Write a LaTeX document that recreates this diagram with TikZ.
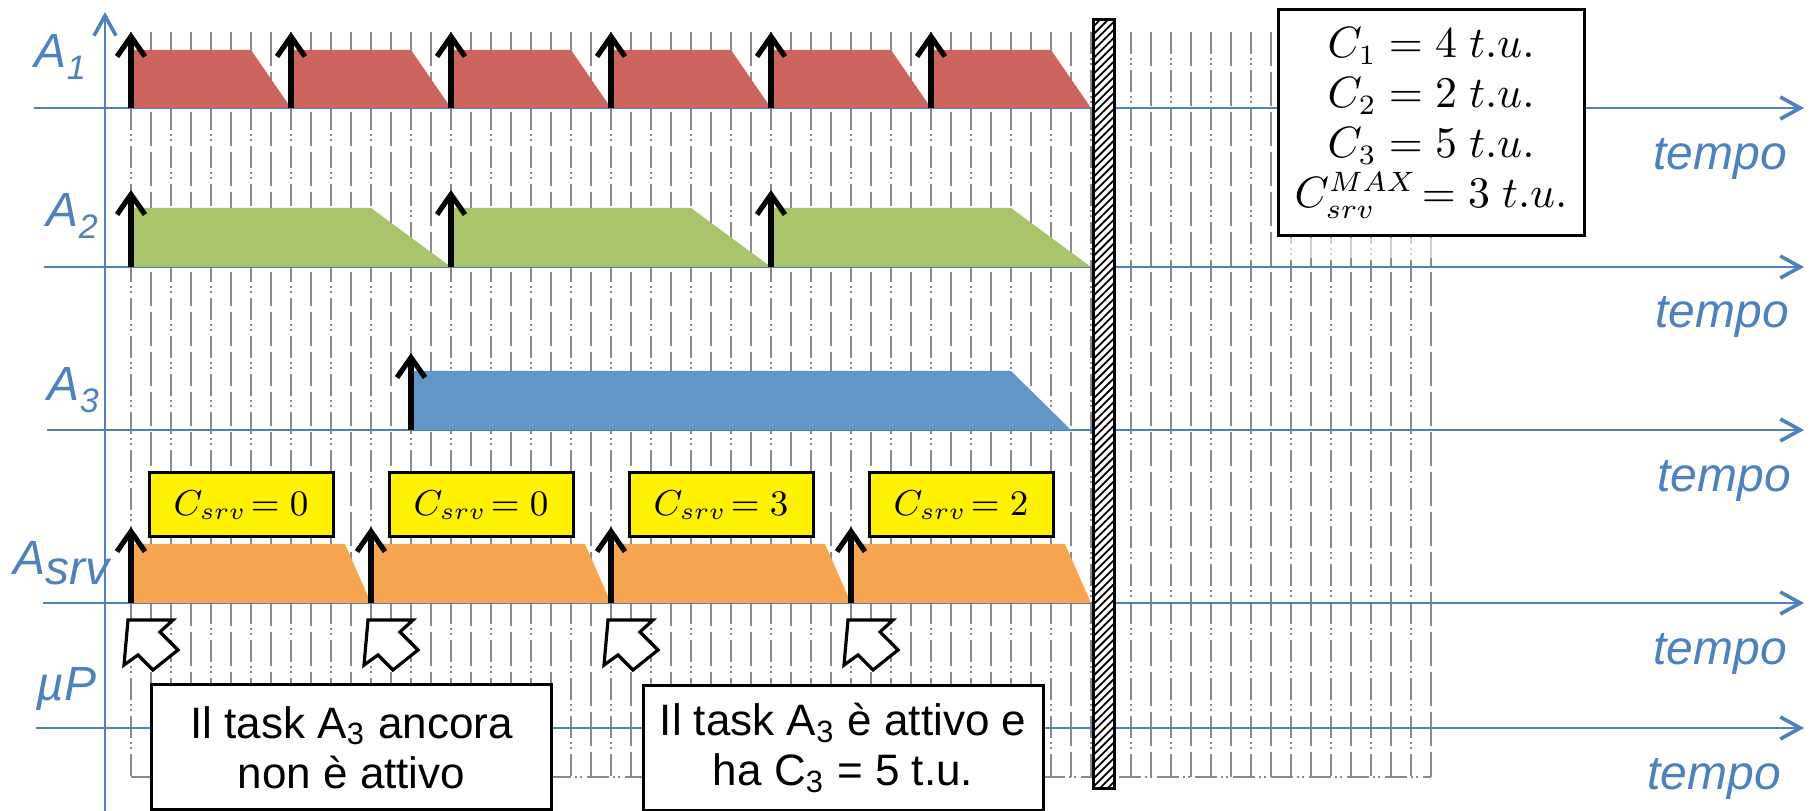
\documentclass[tikz,border=0pt]{standalone}
\usepackage{amsmath}
\usepackage[no-math]{fontspec}
\newfontfamily\slidefont{Liberation Sans}
\usetikzlibrary{arrows.meta,patterns.meta,positioning}
\definecolor{axisblue}{RGB}{79,129,189}
\definecolor{taskred}{RGB}{205,101,94}
\definecolor{taskgreen}{RGB}{169,196,106}
\definecolor{taskblue}{RGB}{98,149,200}
\definecolor{srvorange}{RGB}{248,165,82}
\definecolor{gridgray}{RGB}{138,138,138}
\newcommand{\tsksub}[1]{\raisebox{-3pt}{\fontsize{8.5}{9}\selectfont#1}}

\tikzset{
  axis/.style={draw=axisblue,line width=0.5pt,-{Straight Barb[length=5pt,width=5.5pt,line width=0.9pt]}},
  grid0/.style={draw=gridgray,line width=0.6pt,dash pattern=on 5.5pt off 1pt on 0.5pt off 0.8pt on 0.5pt off 1.2pt},
  grid1/.style={draw=gridgray,line width=0.6pt,dash pattern=on 8.5pt off 1.5pt},
  release/.style={line width=1.3pt,-{Straight Barb[length=5pt,width=7pt]}},
  hollow/.style={draw,fill=white,line width=0.8pt,line join=miter},
  srvbox/.style={draw,fill=yellow,line width=0.75pt,minimum width=46pt,minimum height=16pt,
    inner sep=0pt,font=\fontsize{9}{10}\selectfont},
  notebox/.style={draw,fill=white,line width=0.75pt,minimum width=100pt,minimum height=31.25pt,
    align=center,font=\slidefont\fontsize{11}{12.5}\selectfont},
  parambox/.style={draw,fill=white,line width=0.75pt,minimum width=76.5pt,minimum height=56.5pt,
    align=center,font=\fontsize{10.5}{12.5}\selectfont},
  hatch/.style={line width=0.75pt,preaction={fill=white},
    pattern={Lines[angle=45,distance=1.4pt,line width=0.45pt]}},
  lbl/.style={text=axisblue,font=\slidefont\itshape\fontsize{12}{14}\selectfont,inner sep=0pt},
}

\begin{document}
\begin{tikzpicture}[x=0.25pt,y=-0.25pt]
  \useasboundingbox (0,0) rectangle (1810,811);

  % time grid
  \begin{scope}[shift={(131,0)},x=5pt]
    \foreach \k [evaluate=\k as \p using {int(mod(\k,2))}] in {0,...,65}
      \draw[grid\p] (\k,32) -- (\k,777);
    \draw[grid0] (0,777) -- (65,777);
  \end{scope}
  \fill[white,opacity=0.6] (1290,238) rectangle (1433,258);

  % axes
  \draw[axis] (105,811) -- (105,12);
  \foreach \y/\xs in {108/34,267/44,430/47,603/43,728/36}
    \draw[axis] (\xs,\y) -- (1804,\y);

  \begin{scope}[shift={(131,0)},x=5pt]
    \foreach \t in {0,8,...,40}
      \fill[taskred] (\t,108) -- (\t,50) -- (\t+6,50) -- (\t+8,108) -- cycle;
    \foreach \t in {0,16,32}
      \fill[taskgreen] (\t,267) -- (\t,208) -- (\t+12,208) -- (\t+16,267) -- cycle;
    \fill[taskblue] (14,430) -- (14,371) -- (44,371) -- (47,430) -- cycle;
    \foreach \t in {0,12,24,36}
      \fill[srvorange] (\t,603) -- (\t,544) -- (\t+10.7,544) -- (\t+12,603) -- cycle;

    % releases
    \foreach \t in {0,8,...,40} \draw[release] (\t,108) -- (\t,32);
    \foreach \t in {0,16,32} \draw[release] (\t,267) -- (\t,190);
    \draw[release] (14,430) -- (14,353);
    \foreach \t/\c in {0/0,12/0,24/3,36/2}{
      \draw[release] (\t,603) -- (\t,527);
      \node[srvbox] (budget\t) at (\t+5.5,505) {$C_{srv}\!= \c$};
      \draw[hollow,shift={(\t,603)},x=0.25pt] (-3,17) -- (42,17) -- (29,29) -- (47,47)
        -- (22,67) -- (7,52) -- (-7,62) -- cycle;
    }
  \end{scope}

  \node[notebox] (note1) at (351.5,747.5) {Il task A\textsubscript{3} ancora\\non è attivo};
  \node[notebox] (note2) at (843,748) {Il task A\textsubscript{3} è attivo e\\ha C\textsubscript{3} = 5 t.u.};

  \node[parambox] (params) at (1431,123) {$C_1 = 4\;t.u.$\\$C_2 = 2\;t.u.$\\$C_3 = 5\;t.u.$\\$C_{srv}^{MAX}\!= 3\;t.u.$};

  \draw[hatch] (1093,20) rectangle (1114,789);

  \node[lbl,anchor=base west] (lA1) at (34,68) {A\tsksub{1}};
  \node[lbl,anchor=base west] (lA2) at (46,227) {A\tsksub{2}};
  \node[lbl,anchor=base west] (lA3) at (47,401) {A\tsksub{3}};
  \node[lbl,anchor=base west] (lAsrv) at (13,575) {A\raisebox{-2.5pt}{srv}};
  \node[lbl,anchor=base west] (lmuP) at (36,701) {µP};
  \foreach \bx/\by [count=\i] in {1720/170,1722/328,1724/492,1720/665,1714/790}
    \node[lbl,anchor=base] (tempo\i) at (\bx,\by) {tempo};
\end{tikzpicture}
\end{document}
